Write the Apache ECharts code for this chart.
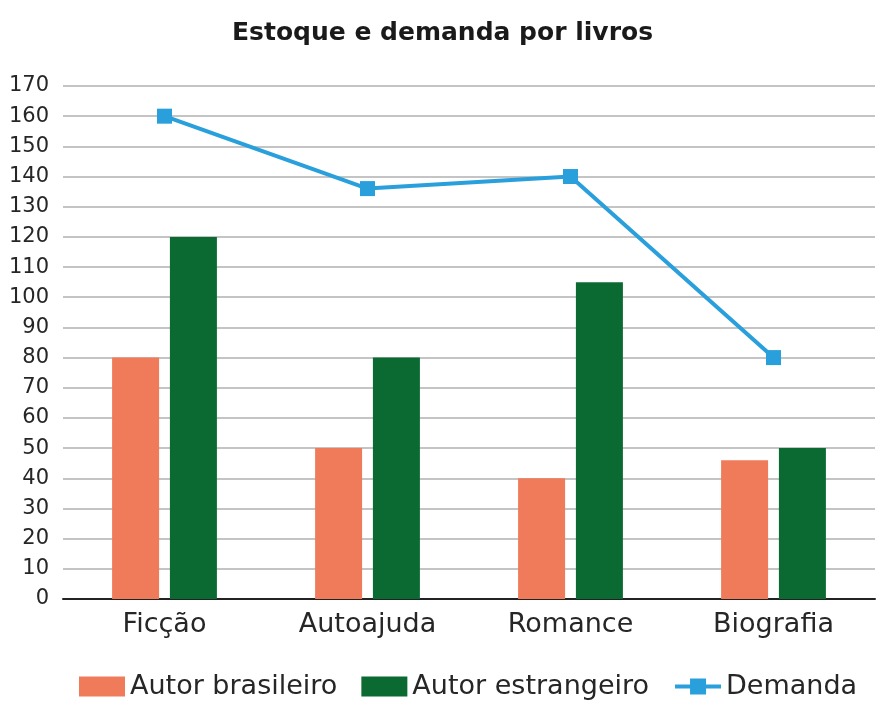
<!DOCTYPE html>
<html><head><meta charset="utf-8">
<script src="https://cdn.jsdelivr.net/npm/echarts@6/dist/echarts.min.js"></script>
<style>html,body{margin:0;padding:0;background:#fff}#c{width:885px;height:712px}</style>
</head><body><div id="c"></div>
<script>
const categories = ['Ficção', 'Autoajuda', 'Romance', 'Biografia'];
const autorBrasileiro = [80, 50, 40, 46];
const autorEstrangeiro = [120, 80, 105, 50];
const demanda = [160, 136, 140, 80];
const seriesNames = ['Autor brasileiro', 'Autor estrangeiro', 'Demanda'];
const titleText = 'Estoque e demanda por livros';

const FONT = 'DejaVu Sans';
const chart = echarts.init(document.getElementById('c'));
chart.setOption({
  backgroundColor: '#fff',
  animation: false,
  title: {
    text: titleText, left: 'center', top: 16,
    textStyle: { fontFamily: FONT, fontSize: 25, fontWeight: 'bold', color: '#1a1a1a' }
  },
  legend: {
    bottom: 7, left: 74, itemGap: 24,
    textStyle: { fontFamily: FONT, fontSize: 27, color: '#262626' },
    data: [
      { name: seriesNames[0], icon: 'rect' },
      { name: seriesNames[1], icon: 'rect' },
      { name: seriesNames[2], lineStyle: { width: 4 } }
    ],
    itemWidth: 46, itemHeight: 20
  },
  grid: { left: 63, right: 10, top: 86, bottom: 113 },
  xAxis: {
    type: 'category', data: categories,
    axisLine: { lineStyle: { color: '#222', width: 2 } },
    axisTick: { show: false },
    axisLabel: { fontFamily: FONT, fontSize: 27, color: '#262626', margin: 12 }
  },
  yAxis: {
    type: 'value', min: 0, max: 170, interval: 10,
    axisLine: { show: false }, axisTick: { show: false },
    axisLabel: { fontFamily: FONT, fontSize: 21, color: '#262626', margin: 14 },
    splitLine: { lineStyle: { color: '#c4c4c4', width: 2 } }
  },
  series: [
    { name: seriesNames[0], type: 'bar', data: autorBrasileiro, barWidth: 47, barGap: '23%',
      itemStyle: { color: '#ef7b5a' } },
    { name: seriesNames[1], type: 'bar', data: autorEstrangeiro, barWidth: 47,
      itemStyle: { color: '#0b6a32' } },
    { name: seriesNames[2], type: 'line', data: demanda, symbol: 'rect', symbolSize: 15,
      lineStyle: { color: '#29a0dc', width: 4 }, itemStyle: { color: '#29a0dc' } }
  ]
});
</script></body></html>
